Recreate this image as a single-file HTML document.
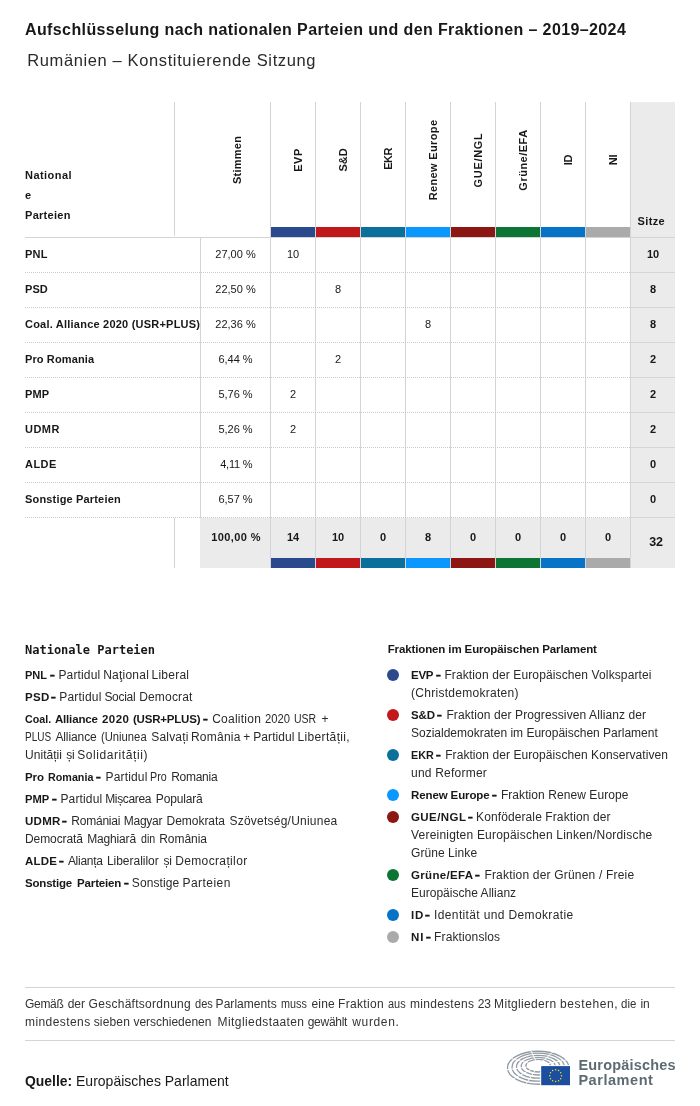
<!DOCTYPE html>
<html lang="de">
<head>
<meta charset="utf-8">
<title>Aufschlüsselung nach nationalen Parteien und den Fraktionen – 2019–2024</title>
<style>
*{box-sizing:border-box;margin:0;padding:0}
html,body{width:700px;height:1106px;background:#fff;overflow:hidden}
body{font-family:"Liberation Sans",sans-serif;color:#181818;position:relative}
h1,h2,p,div,span{position:absolute;white-space:nowrap}
b,i{position:static;font-style:normal}
.t11{font-size:11px;line-height:14px}
.t11b{font-size:11px;line-height:14px;font-weight:700}
.t12{font-size:12px;line-height:18px;color:#2a2a2a}
.t12b{font-size:11.5px;line-height:18px;font-weight:700}
.t12x{font-size:12.5px;line-height:14px;font-weight:700}
.t16{font-size:16.5px;line-height:20px;font-weight:400;color:#2a2a2a}
.t16b{font-size:16px;line-height:20px;font-weight:700}
.t14{font-size:14px;line-height:18px}
.t14b{font-size:14px;line-height:18px;font-weight:700}
.t15{font-size:15px;line-height:18px}
.t15b{font-size:15px;line-height:18px;font-weight:700}
.lg{font-size:14.5px;line-height:18px;font-weight:700;color:#5d6b74}
.m12b{font-size:12px;line-height:18px;font-weight:700;font-family:"DejaVu Sans Mono","Liberation Mono",monospace}
.nt{font-size:12px;line-height:18px;color:#333}
.grp{left:0;top:0;font-size:inherit;font-weight:inherit}
.vl{width:1px;background:#d2d4d8}
.hl{height:1px;background:#d2d4d8}
.dl{height:1px;left:25px;width:606px;background-image:repeating-linear-gradient(90deg,#c8cace 0 1px,transparent 1px 2px)}
.bg{background:#ebebeb}
.bar{height:10px;width:44px}
.rot{font-size:11px;font-weight:700;line-height:14px;transform:translate(-50%,-50%) rotate(-90deg)}
.num{font-size:11px;line-height:14px;text-align:center;width:44px}
.b{font-weight:700}
.dot{width:12px;height:12px;border-radius:50%}
.ds{font-size:12px;line-height:18px;font-weight:700;transform-origin:0 50%;transform:scaleX(.7);-webkit-text-stroke:0.5px #1d1d1b}
</style>
</head>
<body>
<h1 class="t16b" style="left:25.0px;top:20px;letter-spacing:0.39px">Aufschlüsselung nach nationalen Parteien und den Fraktionen – 2019–2024</h1>
<h2 class="t16" style="left:27.2px;top:50px;letter-spacing:0.62px">Rumänien – Konstituierende Sitzung</h2>
<div class="bg" style="left:631px;top:102px;width:44px;height:466px"></div>
<div class="bg" style="left:200px;top:518px;width:431px;height:50px"></div>
<div class="vl" style="left:174px;top:102px;height:134px"></div>
<div class="vl" style="left:174px;top:518px;height:50px"></div>
<div class="vl" style="left:200px;top:238px;height:280px"></div>
<div class="vl" style="left:270px;top:102px;height:466px"></div>
<div class="vl" style="left:315px;top:102px;height:466px"></div>
<div class="vl" style="left:360px;top:102px;height:466px"></div>
<div class="vl" style="left:405px;top:102px;height:466px"></div>
<div class="vl" style="left:450px;top:102px;height:466px"></div>
<div class="vl" style="left:495px;top:102px;height:466px"></div>
<div class="vl" style="left:540px;top:102px;height:466px"></div>
<div class="vl" style="left:585px;top:102px;height:466px"></div>
<div class="vl" style="left:630px;top:102px;height:466px"></div>
<div class="hl" style="left:25px;top:237px;width:650px"></div>
<div class="dl" style="top:272px"></div>
<div class="hl" style="left:631px;top:272px;width:44px;background:#d3d5d9"></div>
<div class="dl" style="top:307px"></div>
<div class="hl" style="left:631px;top:307px;width:44px;background:#d3d5d9"></div>
<div class="dl" style="top:342px"></div>
<div class="hl" style="left:631px;top:342px;width:44px;background:#d3d5d9"></div>
<div class="dl" style="top:377px"></div>
<div class="hl" style="left:631px;top:377px;width:44px;background:#d3d5d9"></div>
<div class="dl" style="top:412px"></div>
<div class="hl" style="left:631px;top:412px;width:44px;background:#d3d5d9"></div>
<div class="dl" style="top:447px"></div>
<div class="hl" style="left:631px;top:447px;width:44px;background:#d3d5d9"></div>
<div class="dl" style="top:482px"></div>
<div class="hl" style="left:631px;top:482px;width:44px;background:#d3d5d9"></div>
<div class="dl" style="top:517px"></div>
<div class="hl" style="left:631px;top:517px;width:44px;background:#d3d5d9"></div>
<div class="bar" style="left:271px;top:227px;background:#2b4a8d"></div>
<div class="bar" style="left:271px;top:558px;background:#2b4a8d"></div>
<div class="bar" style="left:316px;top:227px;background:#c1181b"></div>
<div class="bar" style="left:316px;top:558px;background:#c1181b"></div>
<div class="bar" style="left:361px;top:227px;background:#0b6f9c"></div>
<div class="bar" style="left:361px;top:558px;background:#0b6f9c"></div>
<div class="bar" style="left:406px;top:227px;background:#0a98ff"></div>
<div class="bar" style="left:406px;top:558px;background:#0a98ff"></div>
<div class="bar" style="left:451px;top:227px;background:#8b1612"></div>
<div class="bar" style="left:451px;top:558px;background:#8b1612"></div>
<div class="bar" style="left:496px;top:227px;background:#0d7533"></div>
<div class="bar" style="left:496px;top:558px;background:#0d7533"></div>
<div class="bar" style="left:541px;top:227px;background:#0673c6"></div>
<div class="bar" style="left:541px;top:558px;background:#0673c6"></div>
<div class="bar" style="left:586px;top:227px;background:#aaaaaa"></div>
<div class="bar" style="left:586px;top:558px;background:#aaaaaa"></div>
<div class="t11b" style="left:25.0px;top:168px;letter-spacing:0.46px">National</div>
<div class="t11b" style="left:25.0px;top:188px">e</div>
<div class="t11b" style="left:25.0px;top:208px;letter-spacing:0.29px">Parteien</div>
<div class="t11b" style="left:637.5px;top:214px;letter-spacing:0.38px">Sitze</div>
<div class="rot" style="left:236.5px;top:159.6px;letter-spacing:0.25px">Stimmen</div>
<div class="rot" style="left:298px;top:159.8px;letter-spacing:0.50px">EVP</div>
<div class="rot" style="left:343px;top:159.5px;letter-spacing:0.00px">S&amp;D</div>
<div class="rot" style="left:388px;top:159.2px;letter-spacing:-0.50px">EKR</div>
<div class="rot" style="left:433px;top:159.7px;letter-spacing:0.36px">Renew Europe</div>
<div class="rot" style="left:478px;top:159.8px;letter-spacing:0.67px">GUE/NGL</div>
<div class="rot" style="left:523px;top:159.8px;letter-spacing:0.50px">Grüne/EFA</div>
<div class="rot" style="left:568px;top:160.3px;letter-spacing:-0.30px">ID</div>
<div class="rot" style="left:613px;top:160.3px;letter-spacing:-0.30px">NI</div>
<div class="t11b" style="left:25.0px;top:247px;letter-spacing:0.20px">PNL</div>
<div class="num" style="left:200px;width:71px;top:247px">27,00 %</div>
<div class="num" style="left:271px;top:247px">10</div>
<div class="num b" style="left:631px;top:247px">10</div>
<div class="t11b" style="left:25.0px;top:282px;letter-spacing:0.05px">PSD</div>
<div class="num" style="left:200px;width:71px;top:282px">22,50 %</div>
<div class="num" style="left:316px;top:282px">8</div>
<div class="num b" style="left:631px;top:282px">8</div>
<div class="t11b" style="left:25.0px;top:317px;letter-spacing:0.22px">Coal. Alliance 2020 (USR+PLUS)</div>
<div class="num" style="left:200px;width:71px;top:317px">22,36 %</div>
<div class="num" style="left:406px;top:317px">8</div>
<div class="num b" style="left:631px;top:317px">8</div>
<div class="t11b" style="left:25.0px;top:352px;letter-spacing:0.12px">Pro Romania</div>
<div class="num" style="left:200px;width:71px;top:352px">6,44 %</div>
<div class="num" style="left:316px;top:352px">2</div>
<div class="num b" style="left:631px;top:352px">2</div>
<div class="t11b" style="left:25.0px;top:387px;letter-spacing:0.15px">PMP</div>
<div class="num" style="left:200px;width:71px;top:387px">5,76 %</div>
<div class="num" style="left:271px;top:387px">2</div>
<div class="num b" style="left:631px;top:387px">2</div>
<div class="t11b" style="left:25.0px;top:422px;letter-spacing:0.47px">UDMR</div>
<div class="num" style="left:200px;width:71px;top:422px">5,26 %</div>
<div class="num" style="left:271px;top:422px">2</div>
<div class="num b" style="left:631px;top:422px">2</div>
<div class="t11b" style="left:25.0px;top:457px;letter-spacing:0.47px">ALDE</div>
<div class="t11" style="left:220.2px;top:457px;letter-spacing:-0.24px">4,11 %</div>
<div class="num b" style="left:631px;top:457px">0</div>
<div class="t11b" style="left:25.0px;top:492px;letter-spacing:0.17px">Sonstige Parteien</div>
<div class="num" style="left:200px;width:71px;top:492px">6,57 %</div>
<div class="num b" style="left:631px;top:492px">0</div>
<div class="t11b" style="left:211.2px;top:530px;letter-spacing:0.40px">100,00 %</div>
<div class="num b" style="left:271px;top:530px">14</div>
<div class="num b" style="left:316px;top:530px">10</div>
<div class="num b" style="left:361px;top:530px">0</div>
<div class="num b" style="left:406px;top:530px">8</div>
<div class="num b" style="left:451px;top:530px">0</div>
<div class="num b" style="left:496px;top:530px">0</div>
<div class="num b" style="left:541px;top:530px">0</div>
<div class="num b" style="left:586px;top:530px">0</div>
<div class="t12x" style="left:649.3px;top:535px;letter-spacing:-0.30px">32</div>
<div class="m12b" style="left:25.0px;top:641px">Nationale Parteien</div>
<b class="grp"><span class="t12b" style="left:25.0px;top:666px;transform:scaleX(0.957);transform-origin:0 0">PNL</span></b>
<span class="ds" style="left:49.6px;top:666px">–</span>
<i class="grp"><span class="t12" style="left:58.4px;top:666px;letter-spacing:0.16px">Partidul</span> <span class="t12" style="left:103.2px;top:666px;letter-spacing:0.23px">Naţional</span> <span class="t12" style="left:151.5px;top:666px;letter-spacing:0.25px">Liberal</span></i>
<b class="grp"><span class="t12b" style="left:25.0px;top:688px;letter-spacing:0.30px">PSD</span></b>
<span class="ds" style="left:51.2px;top:688px">–</span>
<i class="grp"><span class="t12" style="left:59.2px;top:688px;letter-spacing:0.21px">Partidul</span> <span class="t12" style="left:104.4px;top:688px;letter-spacing:-0.28px">Social</span> <span class="t12" style="left:139.2px;top:688px;letter-spacing:0.17px">Democrat</span></i>
<b class="grp"><span class="t12b" style="left:25.0px;top:710px;transform:scaleX(0.929);transform-origin:0 0">Coal.</span> <span class="t12b" style="left:54.9px;top:710px;letter-spacing:-0.16px">Alliance</span> <span class="t12b" style="left:102.0px;top:710px;letter-spacing:0.47px">2020</span> <span class="t12b" style="left:132.9px;top:710px;letter-spacing:-0.19px">(USR+PLUS)</span></b>
<span class="ds" style="left:202.8px;top:710px">–</span>
<i class="grp"><span class="t12" style="left:212.2px;top:710px;letter-spacing:0.24px">Coalition</span> <span class="t12" style="left:265.1px;top:710px;transform:scaleX(0.937);transform-origin:0 0">2020</span> <span class="t12" style="left:294.4px;top:710px;transform:scaleX(0.875);transform-origin:0 0">USR</span> <span class="t12" style="left:321.6px;top:710px">+</span></i>
<i class="grp"><span class="t12" style="left:25.0px;top:728px;transform:scaleX(0.833);transform-origin:0 0">PLUS</span> <span class="t12" style="left:55.4px;top:728px;letter-spacing:-0.10px">Alliance</span> <span class="t12" style="left:101.4px;top:728px;transform:scaleX(0.937);transform-origin:0 0">(Uniunea</span> <span class="t12" style="left:151.3px;top:728px;letter-spacing:0.18px">Salvați</span> <span class="t12" style="left:190.9px;top:728px;letter-spacing:0.25px">România</span> <span class="t12" style="left:243.3px;top:728px">+</span> <span class="t12" style="left:253.2px;top:728px;letter-spacing:0.09px">Partidul</span> <span class="t12" style="left:297.5px;top:728px;letter-spacing:0.35px">Libertății,</span></i>
<i class="grp"><span class="t12" style="left:25.0px;top:746px;letter-spacing:0.04px">Unității</span> <span class="t12" style="left:66.2px;top:746px;letter-spacing:-0.30px">și</span> <span class="t12" style="left:77.2px;top:746px;letter-spacing:0.58px">Solidarității)</span></i>
<b class="grp"><span class="t12b" style="left:25.0px;top:768px;letter-spacing:-0.10px">Pro</span> <span class="t12b" style="left:48.0px;top:768px;transform:scaleX(0.935);transform-origin:0 0">Romania</span></b>
<span class="ds" style="left:96.4px;top:768px">–</span>
<i class="grp"><span class="t12" style="left:105.5px;top:768px;letter-spacing:0.17px">Partidul</span> <span class="t12" style="left:150.4px;top:768px;transform:scaleX(0.894);transform-origin:0 0">Pro</span> <span class="t12" style="left:171.2px;top:768px;letter-spacing:-0.27px">Romania</span></i>
<b class="grp"><span class="t12b" style="left:25.0px;top:790px;transform:scaleX(0.972);transform-origin:0 0">PMP</span></b>
<span class="ds" style="left:51.9px;top:790px">–</span>
<i class="grp"><span class="t12" style="left:60.4px;top:790px;letter-spacing:0.16px">Partidul</span> <span class="t12" style="left:105.2px;top:790px;letter-spacing:-0.34px">Mișcarea</span> <span class="t12" style="left:155.8px;top:790px;letter-spacing:-0.16px">Populară</span></i>
<b class="grp"><span class="t12b" style="left:25.0px;top:812px;letter-spacing:0.27px">UDMR</span></b>
<span class="ds" style="left:62.4px;top:812px">–</span>
<i class="grp"><span class="t12" style="left:71.2px;top:812px;letter-spacing:-0.20px">Romániai</span> <span class="t12" style="left:123.8px;top:812px;letter-spacing:-0.28px">Magyar</span> <span class="t12" style="left:166.6px;top:812px;letter-spacing:-0.04px">Demokrata</span> <span class="t12" style="left:229.5px;top:812px;letter-spacing:0.23px">Szövetség/Uniunea</span></i>
<i class="grp"><span class="t12" style="left:25.0px;top:830px;letter-spacing:-0.09px">Democrată</span> <span class="t12" style="left:87.2px;top:830px;letter-spacing:-0.16px">Maghiară</span> <span class="t12" style="left:141.1px;top:830px;transform:scaleX(0.888);transform-origin:0 0">din</span> <span class="t12" style="left:159.2px;top:830px;letter-spacing:-0.03px">România</span></i>
<b class="grp"><span class="t12b" style="left:25.0px;top:852px;letter-spacing:0.23px">ALDE</span></b>
<span class="ds" style="left:59.3px;top:852px">–</span>
<i class="grp"><span class="t12" style="left:67.9px;top:852px;letter-spacing:-0.27px">Alianța</span> <span class="t12" style="left:106.9px;top:852px;letter-spacing:-0.02px">Liberalilor</span> <span class="t12" style="left:163.6px;top:852px;letter-spacing:-0.30px">și</span> <span class="t12" style="left:175.2px;top:852px;letter-spacing:0.36px">Democraților</span></i>
<b class="grp"><span class="t12b" style="left:25.0px;top:874px;letter-spacing:-0.19px">Sonstige</span> <span class="t12b" style="left:77.1px;top:874px;letter-spacing:-0.16px">Parteien</span></b>
<span class="ds" style="left:123.6px;top:874px">–</span>
<i class="grp"><span class="t12" style="left:131.8px;top:874px;letter-spacing:0.09px">Sonstige</span> <span class="t12" style="left:182.5px;top:874px;letter-spacing:0.46px">Parteien</span></i>
<div class="t12b" style="left:387.7px;top:640px;letter-spacing:-0.12px">Fraktionen im Europäischen Parlament</div>
<div class="dot" style="left:387px;top:669px;background:#2b4a8d"></div>
<div class="t12b" style="left:411.0px;top:666px;letter-spacing:-0.25px">EVP</div>
<span class="ds" style="left:436.1px;top:666px">–</span>
<div class="t12" style="left:444.4px;top:666px;letter-spacing:0.12px">Fraktion der Europäischen Volkspartei</div>
<div class="t12" style="left:411.0px;top:684px;letter-spacing:0.28px">(Christdemokraten)</div>
<div class="dot" style="left:387px;top:709px;background:#c1181b"></div>
<div class="t12b" style="left:411.0px;top:706px;letter-spacing:-0.15px">S&amp;D</div>
<span class="ds" style="left:437.3px;top:706px">–</span>
<div class="t12" style="left:446.4px;top:706px;letter-spacing:0.10px">Fraktion der Progressiven Allianz der</div>
<div class="t12" style="left:411.0px;top:724px">Sozialdemokraten im Europäischen Parlament</div>
<div class="dot" style="left:387px;top:749px;background:#0b6f9c"></div>
<div class="t12b" style="left:411.0px;top:746px;transform:scaleX(0.938);transform-origin:0 0">EKR</div>
<span class="ds" style="left:436.1px;top:746px">–</span>
<div class="t12" style="left:445.2px;top:746px;letter-spacing:0.07px">Fraktion der Europäischen Konservativen</div>
<div class="t12" style="left:411.0px;top:764px;letter-spacing:0.22px">und Reformer</div>
<div class="dot" style="left:387px;top:789px;background:#0a98ff"></div>
<div class="t12b" style="left:411.0px;top:786px;letter-spacing:-0.11px">Renew Europe</div>
<span class="ds" style="left:492.4px;top:786px">–</span>
<div class="t12" style="left:500.9px;top:786px;letter-spacing:0.07px">Fraktion Renew Europe</div>
<div class="dot" style="left:387px;top:811px;background:#8b1612"></div>
<div class="t12b" style="left:411.0px;top:808px;letter-spacing:0.42px">GUE/NGL</div>
<span class="ds" style="left:468.1px;top:808px">–</span>
<div class="t12" style="left:476.1px;top:808px;letter-spacing:0.10px">Konföderale Fraktion der</div>
<div class="t12" style="left:411.0px;top:826px;letter-spacing:0.21px">Vereinigten Europäischen Linken/Nordische</div>
<div class="t12" style="left:411.0px;top:844px;letter-spacing:0.07px">Grüne Linke</div>
<div class="dot" style="left:387px;top:869px;background:#0d7533"></div>
<div class="t12b" style="left:411.0px;top:866px;letter-spacing:0.34px">Grüne/EFA</div>
<span class="ds" style="left:475.3px;top:866px">–</span>
<div class="t12" style="left:484.4px;top:866px;letter-spacing:0.19px">Fraktion der Grünen / Freie</div>
<div class="t12" style="left:411.0px;top:884px;letter-spacing:0.02px">Europäische Allianz</div>
<div class="dot" style="left:387px;top:909px;background:#0673c6"></div>
<div class="t12b" style="left:411.0px;top:906px;letter-spacing:0.70px">ID</div>
<span class="ds" style="left:425.3px;top:906px">–</span>
<div class="t12" style="left:434.1px;top:906px;letter-spacing:0.36px">Identität und Demokratie</div>
<div class="dot" style="left:387px;top:931px;background:#aaaaaa"></div>
<div class="t12b" style="left:411.0px;top:928px;letter-spacing:1.00px">NI</div>
<span class="ds" style="left:425.9px;top:928px">–</span>
<div class="t12" style="left:434.1px;top:928px;letter-spacing:0.12px">Fraktionslos</div>
<div class="hl" style="left:25px;top:987px;width:650px"></div>
<p class="grp"><span class="nt" style="left:25.0px;top:995px;letter-spacing:-0.30px">Gemäß</span> <span class="nt" style="left:67.7px;top:995px">der</span> <span class="nt" style="left:88.6px;top:995px;letter-spacing:0.27px">Geschäftsordnung</span> <span class="nt" style="left:194.9px;top:995px;transform:scaleX(0.921);transform-origin:0 0">des</span> <span class="nt" style="left:215.6px;top:995px;letter-spacing:0.04px">Parlaments</span> <span class="nt" style="left:280.9px;top:995px;transform:scaleX(0.900);transform-origin:0 0">muss</span> <span class="nt" style="left:311.4px;top:995px;letter-spacing:0.23px">eine</span> <span class="nt" style="left:338.1px;top:995px;letter-spacing:0.31px">Fraktion</span> <span class="nt" style="left:388.0px;top:995px;transform:scaleX(0.911);transform-origin:0 0">aus</span> <span class="nt" style="left:410.0px;top:995px;letter-spacing:0.28px">mindestens</span> <span class="nt" style="left:477.7px;top:995px">23</span> <span class="nt" style="left:494.1px;top:995px;letter-spacing:0.33px">Mitgliedern</span> <span class="nt" style="left:560.0px;top:995px;letter-spacing:0.62px">bestehen,</span> <span class="nt" style="left:621.1px;top:995px;transform:scaleX(0.956);transform-origin:0 0">die</span> <span class="nt" style="left:640.6px;top:995px;letter-spacing:-0.30px">in</span></p>
<p class="grp"><span class="nt" style="left:25.0px;top:1013px;letter-spacing:0.42px">mindestens</span> <span class="nt" style="left:93.7px;top:1013px;letter-spacing:0.16px">sieben</span> <span class="nt" style="left:133.4px;top:1013px">verschiedenen</span> <span class="nt" style="left:217.6px;top:1013px;letter-spacing:0.41px">Mitgliedstaaten</span> <span class="nt" style="left:307.7px;top:1013px;letter-spacing:-0.27px">gewählt</span> <span class="nt" style="left:352.3px;top:1013px;letter-spacing:0.63px">wurden.</span></p>
<div class="hl" style="left:25px;top:1040px;width:650px"></div>
<div class="t15b" style="left:25.0px;top:1072px;transform:scaleX(0.928);transform-origin:0 0">Quelle:</div>
<div class="t15" style="left:76.4px;top:1072px;transform:scaleX(0.934);transform-origin:0 0">Europäisches Parlament</div>
<div class="lg" style="left:578.4px;top:1056px;letter-spacing:0.20px">Europäisches</div>
<div class="lg" style="left:578.4px;top:1071px;letter-spacing:0.55px">Parlament</div>
<svg style="position:absolute;left:500px;top:1044px" width="80" height="50" viewBox="500 1044 80 50"><g fill="none" stroke="#929ca2" stroke-width="1.3"><ellipse cx="538.2" cy="1067.75" rx="30.7" ry="16.5"/><ellipse cx="538.2" cy="1067.2" rx="26.2" ry="14.0"/><ellipse cx="538.2" cy="1066.75" rx="21.7" ry="11.4"/><ellipse cx="538.2" cy="1066.2" rx="17.0" ry="8.8"/><ellipse cx="538.2" cy="1065.7" rx="12.3" ry="6.3"/></g><g stroke="#fff" stroke-width="1"><line x1="536.3" y1="1061.6" x2="529.5" y2="1048.1"/><line x1="542.0" y1="1062.0" x2="555.1" y2="1049.8"/><line x1="531.3" y1="1063.8" x2="507.0" y2="1057.5"/><line x1="530.3" y1="1066.6" x2="502.6" y2="1070.3"/><line x1="532.1" y1="1068.9" x2="510.6" y2="1080.4"/><line x1="535.2" y1="1070.2" x2="524.7" y2="1086.0"/><line x1="545.5" y1="1064.1" x2="570.8" y2="1059.0"/></g><rect x="540.2" y="1065.2" width="31" height="21" fill="#fff"/><rect x="541.2" y="1066.1" width="28.8" height="19.1" fill="#1b4e9f"/><g fill="#ffd91a"><circle cx="555.60" cy="1069.80" r="0.75"/><circle cx="558.55" cy="1070.59" r="0.75"/><circle cx="560.71" cy="1072.75" r="0.75"/><circle cx="561.50" cy="1075.70" r="0.75"/><circle cx="560.71" cy="1078.65" r="0.75"/><circle cx="558.55" cy="1080.81" r="0.75"/><circle cx="555.60" cy="1081.60" r="0.75"/><circle cx="552.65" cy="1080.81" r="0.75"/><circle cx="550.49" cy="1078.65" r="0.75"/><circle cx="549.70" cy="1075.70" r="0.75"/><circle cx="550.49" cy="1072.75" r="0.75"/><circle cx="552.65" cy="1070.59" r="0.75"/></g></svg>
</body>
</html>
